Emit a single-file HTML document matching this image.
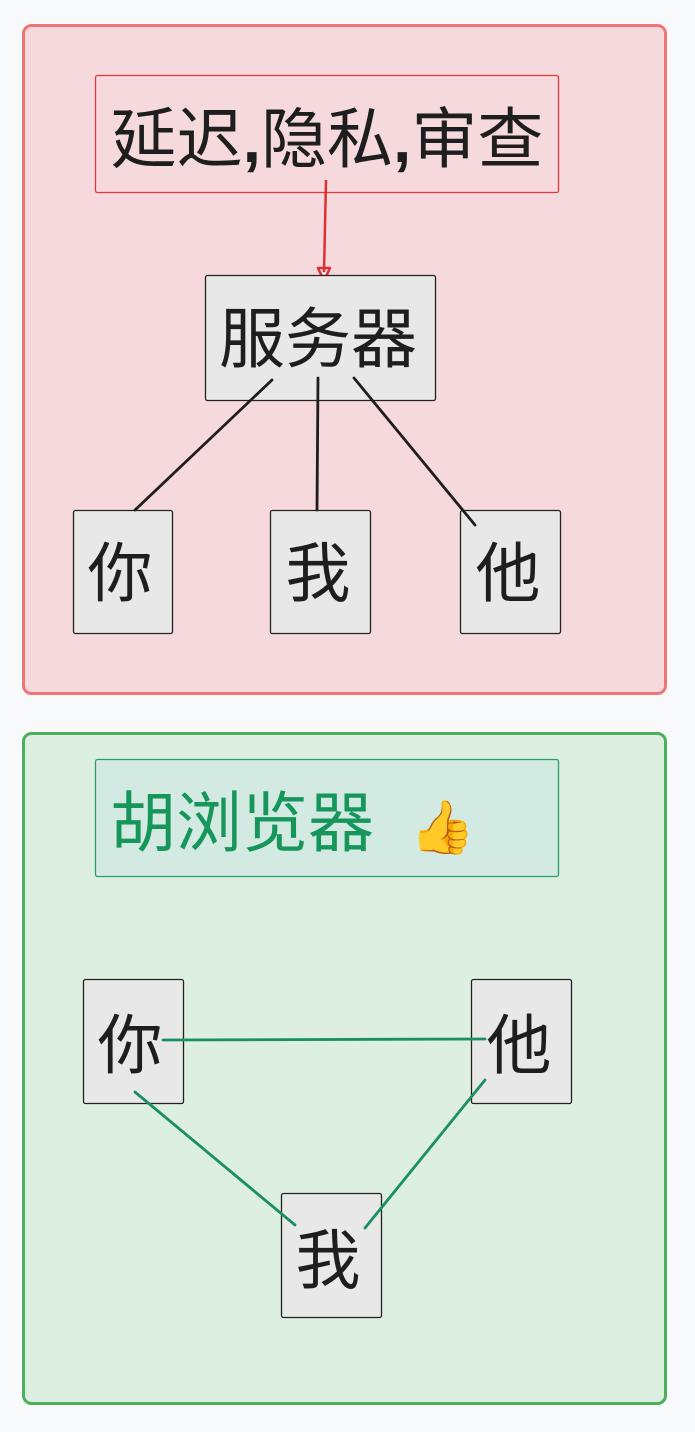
<!DOCTYPE html>
<html><head><meta charset="utf-8"><style>
html,body{margin:0;padding:0;background:#f8f9fb;}
svg{display:block}
text{font-family:"Liberation Sans","Noto Sans CJK SC",sans-serif;}
</style></head><body>
<svg width="695" height="1432" viewBox="0 0 695 1432" xmlns="http://www.w3.org/2000/svg">
<rect x="0" y="0" width="695" height="1432" fill="#f8f9fb"/>
<!-- red group -->
<rect x="23.5" y="25.5" width="642" height="668" rx="8" fill="#f5d9dc" stroke="#f07474" stroke-width="3"/>
<rect x="95.5" y="75.5" width="463" height="117" rx="2" fill="#f5d9dc" stroke="#e03a3a" stroke-width="1.3"/>
<text x="327" y="162" font-size="66" text-anchor="middle" fill="#1e1e1e">延迟<tspan font-weight="bold">,</tspan>隐私<tspan font-weight="bold">,</tspan>审查</text>
<line x1="326" y1="180" x2="324" y2="272" stroke="#e03030" stroke-width="2.5"/>
<path d="M318 268 L330 268 L324 281 Z" fill="none" stroke="#e03030" stroke-width="2.5" stroke-linejoin="round"/>
<rect x="205.5" y="275.5" width="230" height="125" rx="2" fill="#e8e8e8" stroke="#222" stroke-width="1.3"/>
<rect x="73.5" y="510.5" width="99" height="123" rx="2" fill="#e8e8e8" stroke="#222" stroke-width="1.3"/>
<rect x="270.5" y="510.5" width="100" height="123" rx="2" fill="#e8e8e8" stroke="#222" stroke-width="1.3"/>
<rect x="460.5" y="510.5" width="100" height="123" rx="2" fill="#e8e8e8" stroke="#222" stroke-width="1.3"/>
<g stroke="#1e1e1e" stroke-width="2.8" stroke-linecap="round">
<line x1="272" y1="380" x2="135" y2="510"/>
<line x1="318" y1="378" x2="317" y2="510"/>
<line x1="354" y1="378" x2="475" y2="525"/>
</g>
<text x="318" y="362" font-size="66" text-anchor="middle" fill="#1e1e1e">服务器</text>
<text x="120" y="596" font-size="65" text-anchor="middle" fill="#1e1e1e">你</text>
<text x="318" y="596" font-size="65" text-anchor="middle" fill="#1e1e1e">我</text>
<text x="508" y="596" font-size="65" text-anchor="middle" fill="#1e1e1e">他</text>
<!-- green group -->
<rect x="23.5" y="733.5" width="642" height="670" rx="8" fill="#dcefe0" stroke="#4caf5a" stroke-width="3"/>
<rect x="95.5" y="759.5" width="463" height="117" rx="2" fill="#d3eae2" stroke="#2a9d6a" stroke-width="1.3"/>
<text x="110" y="846" font-size="66" fill="#16965a">胡浏览器</text>
<text x="410" y="845" font-size="52" fill="#f0b030">👍</text>
<rect x="83.5" y="979.5" width="100" height="124" rx="2" fill="#e8e8e8" stroke="#222" stroke-width="1.3"/>
<rect x="471.5" y="979.5" width="100" height="124" rx="2" fill="#e8e8e8" stroke="#222" stroke-width="1.3"/>
<rect x="281.5" y="1193.5" width="100" height="124" rx="2" fill="#e8e8e8" stroke="#222" stroke-width="1.3"/>
<g stroke="#1a9060" stroke-width="2.8" stroke-linecap="round">
<line x1="163" y1="1040" x2="485" y2="1039"/>
<line x1="135" y1="1092" x2="295" y2="1225"/>
<line x1="485" y1="1080" x2="365" y2="1228"/>
</g>
<text x="130" y="1068" font-size="65" text-anchor="middle" fill="#1e1e1e">你</text>
<text x="519" y="1068" font-size="65" text-anchor="middle" fill="#1e1e1e">他</text>
<text x="328" y="1283" font-size="65" text-anchor="middle" fill="#1e1e1e">我</text>
</svg>
</body></html>
